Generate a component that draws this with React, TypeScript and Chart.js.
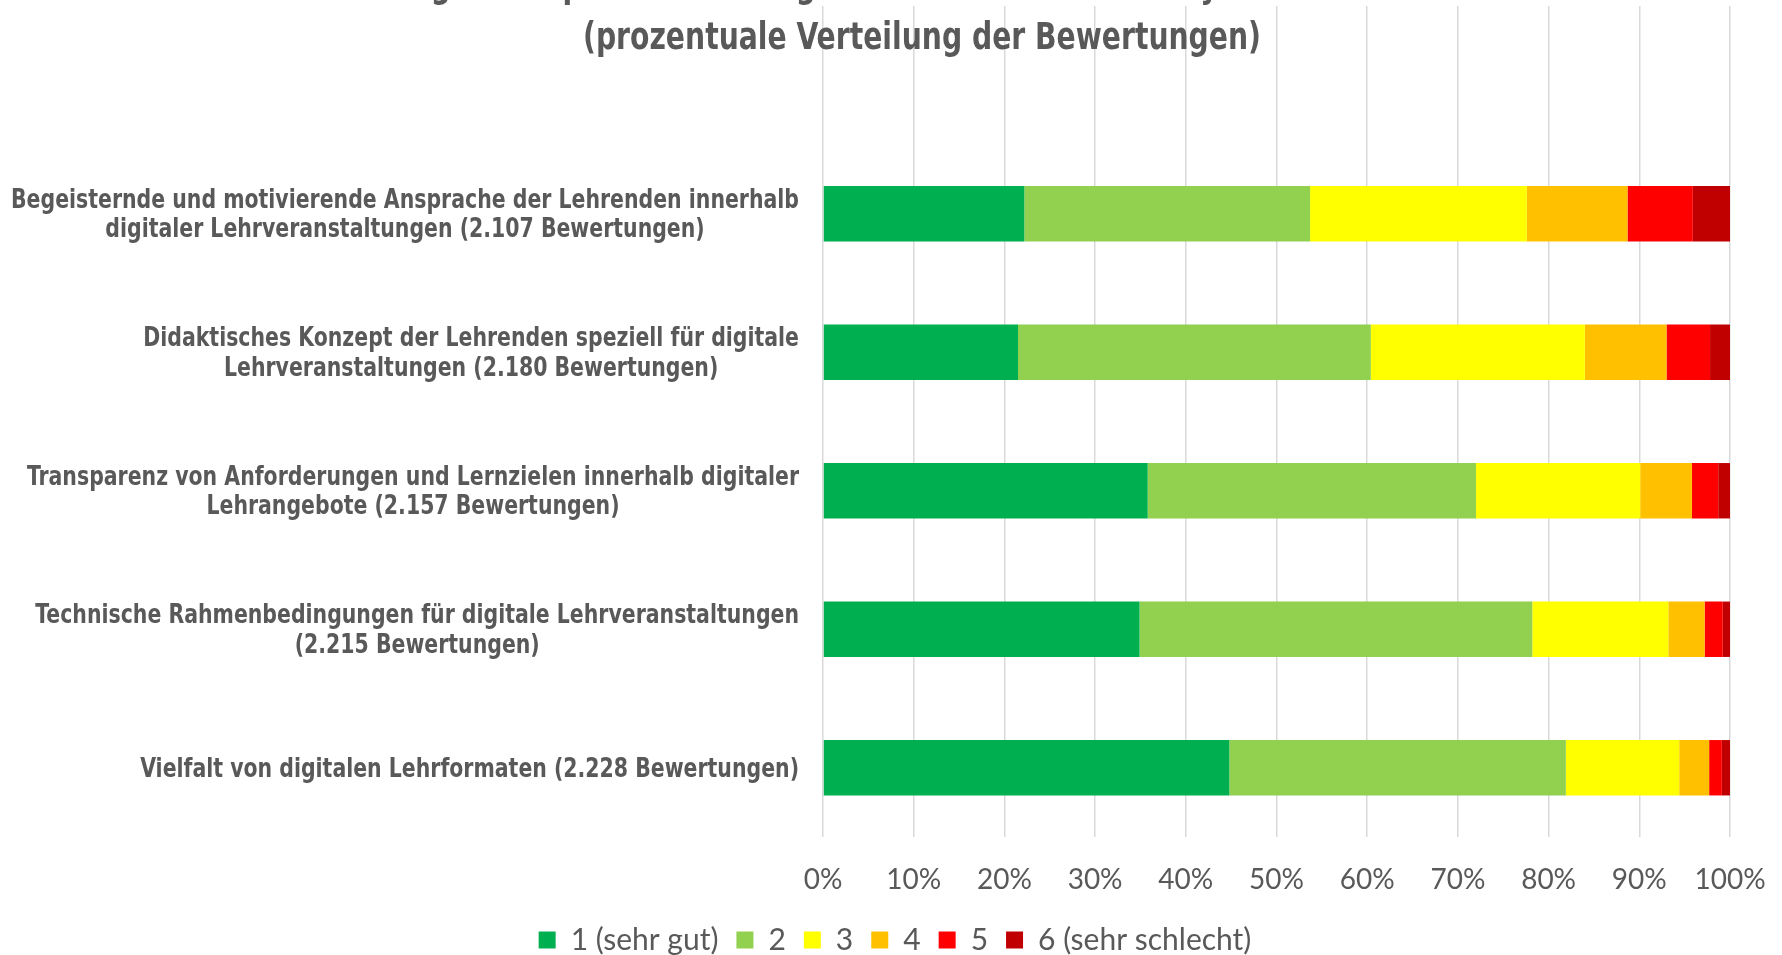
import React, { useEffect, useRef } from "react";
import { Chart, registerables } from "chart.js";

Chart.register(...registerables);

const TITLE_LINE_1 = "Bewertung der Aspekte in der digitalen Lehre 2020 – Analyse der Lehrevaluation";
const TITLE_LINE_2 = "(prozentuale Verteilung der Bewertungen)";

const categories: string[][] = [
  ["Begeisternde und motivierende Ansprache der Lehrenden innerhalb", "digitaler Lehrveranstaltungen (2.107 Bewertungen)"],
  ["Didaktisches Konzept der Lehrenden speziell für digitale", "Lehrveranstaltungen (2.180 Bewertungen)"],
  ["Transparenz von Anforderungen und Lernzielen innerhalb digitaler", "Lehrangebote (2.157 Bewertungen)"],
  ["Technische Rahmenbedingungen für digitale Lehrveranstaltungen", "(2.215 Bewertungen)"],
  ["Vielfalt von digitalen Lehrformaten (2.228 Bewertungen)"],
];

const seriesNames = ["1 (sehr gut)", "2", "3", "4", "5", "6 (sehr schlecht)"];
const seriesColors = ["#00B050", "#92D050", "#FFFF00", "#FFC000", "#FF0000", "#C00000"];

const rating1 = [22.2, 21.5, 35.8, 34.9, 44.8];
const rating2 = [31.5, 38.9, 36.2, 43.3, 37.1];
const rating3 = [23.9, 23.6, 18.1, 15.0, 12.5];
const rating4 = [11.1, 9.0, 5.7, 4.0, 3.3];
const rating5 = [7.2, 4.8, 2.9, 2.0, 1.4];
const rating6 = [4.1, 2.2, 1.3, 0.8, 0.9];

const xTicks = [0, 10, 20, 30, 40, 50, 60, 70, 80, 90, 100];

const TEXT_COLOR = "#595959";
const COND = '"DejaVu Sans Condensed", "DejaVu Sans", sans-serif';
const BODY = 'Lato, "Open Sans", sans-serif';
const LABEL_SIZE = 26;
const LABEL_LINE = 29.5;
const LABEL_REF_WIDTH = 788; // width of the widest label line
const TITLE_SIZE = 37;
const TITLE_REF_WIDTH = 678; // width of the second title line

function measure(text: string, font: string) {
  const c = document.createElement("canvas").getContext("2d")!;
  c.font = font;
  return c.measureText(text).width;
}

const categoryLabelsPlugin = {
  id: "categoryLabels",
  afterDraw(chart: any) {
    const ctx = chart.ctx;
    const y = chart.scales.y;
    const right = chart.chartArea.left - 24;
    ctx.save();
    ctx.font = `bold ${LABEL_SIZE}px ${COND}`;
    const k = LABEL_REF_WIDTH / ctx.measureText(categories[0][0]).width;
    ctx.fillStyle = TEXT_COLOR;
    ctx.textAlign = "center";
    ctx.textBaseline = "middle";
    categories.forEach((lines, i) => {
      const yc = y.getPixelForValue(i + 1) + 2;
      const w = Math.max(...lines.map((l) => ctx.measureText(l).width)) * k;
      const cx = right - w / 2;
      lines.forEach((l, j) => {
        ctx.save();
        ctx.translate(cx, yc + (j - (lines.length - 1) / 2) * LABEL_LINE);
        ctx.scale(k, 1);
        ctx.fillText(l, 0, 0);
        ctx.restore();
      });
    });
    ctx.restore();
  },
};

export default function App() {
  const ref = useRef<HTMLCanvasElement>(null);
  const titleScale = TITLE_REF_WIDTH / measure(TITLE_LINE_2, `bold ${TITLE_SIZE}px ${COND}`);

  useEffect(() => {
    const series = [rating1, rating2, rating3, rating4, rating5, rating6];
    const chart = new Chart(ref.current!, {
      type: "bar",
      data: {
        labels: ["", ...categories.map((c) => c.join(" "))],
        datasets: series.map((s, i) => ({
          label: seriesNames[i],
          data: [null, ...s],
          backgroundColor: seriesColors[i],
          borderWidth: 0,
          barPercentage: 0.4,
          categoryPercentage: 1,
        })),
      },
      options: {
        indexAxis: "y",
        animation: false,
        responsive: false,
        layout: { padding: { top: 6, left: 60, right: 52, bottom: 0 } },
        scales: {
          x: {
            stacked: true,
            min: 0,
            max: 100,
            afterBuildTicks: (scale: any) => {
              scale.ticks = xTicks.map((v) => ({ value: v }));
            },
            afterFit: (scale: any) => {
              scale.height = 70;
              scale.paddingLeft = 0;
              scale.paddingRight = 0;
            },
            ticks: {
              callback: (v: any) => v + "%",
              color: TEXT_COLOR,
              font: { family: BODY, size: 28 },
              padding: 26,
              maxRotation: 0,
              minRotation: 0,
              autoSkip: false,
            },
            grid: { color: "#D9D9D9", lineWidth: 1.5, drawTicks: false },
            border: { display: false },
          },
          y: {
            stacked: true,
            ticks: { display: false },
            grid: { display: false, drawTicks: false },
            border: { display: false },
            afterFit: (scale: any) => {
              scale.width = 763;
            },
          },
        },
        plugins: {
          tooltip: { enabled: false },
          legend: {
            position: "bottom",
            labels: {
              boxWidth: 17,
              boxHeight: 17,
              padding: 18,
              color: TEXT_COLOR,
              font: { family: BODY, size: 30 },
            },
          },
        },
      },
      plugins: [categoryLabelsPlugin],
    } as any);
    return () => chart.destroy();
  }, []);

  return (
    <div style={{ position: "absolute", left: 0, top: 0, width: 1782, height: 955, overflow: "hidden", background: "#fff" }}>
      <canvas ref={ref} width={1782} height={965} style={{ position: "absolute", left: 0, top: 0, width: 1782, height: 965 }} />
      <div
        style={{
          position: "absolute",
          left: 922 - 900,
          width: 1800,
          top: -40.8,
          textAlign: "center",
          fontFamily: COND,
          fontWeight: "bold",
          fontSize: TITLE_SIZE,
          lineHeight: "52px",
          color: TEXT_COLOR,
          pointerEvents: "none",
          transform: `scaleX(${titleScale})`,
          transformOrigin: "900px 0",
          whiteSpace: "nowrap",
        }}
      >
        <div>{TITLE_LINE_1}</div>
        <div>{TITLE_LINE_2}</div>
      </div>
    </div>
  );
}
